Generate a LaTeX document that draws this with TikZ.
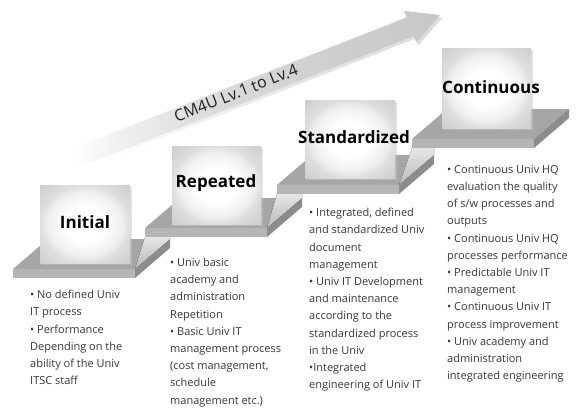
\documentclass[tikz,border=0pt]{standalone}
\usepackage{fontspec}
\setmainfont{Open Sans}
\pgfdeclarehorizontalshading{arrowshade}{100bp}{color(0bp)=(white); color(29bp)=(white); color(35bp)=(gray!12); color(45bp)=(gray!27); color(60bp)=(gray!37); color(75bp)=(gray!44); color(100bp)=(gray!44)}
\pgfdeclarehorizontalshading{arrowshadow}{100bp}{color(0bp)=(white); color(33bp)=(white); color(50bp)=(gray!16); color(75bp)=(gray!28); color(100bp)=(gray!28)}
\pgfdeclareradialshading{boxshade}{\pgfpoint{0bp}{0bp}}{color(0bp)=(white); color(11bp)=(white); color(21bp)=(gray!13); color(25bp)=(gray!26); color(36bp)=(gray!40); color(50bp)=(gray!40)}
\tikzset{
  topface/.style={fill=gray!70},
  frontface/.style={fill=gray!58},
  sideface/.style={fill=black!45},
  riserface/.style={top color=gray!20, bottom color=gray!55},
  levelbox/.style={shading=boxshade},
  boxshadow/.style={fill=gray!45, opacity=0.5},
  levellabel/.style={font=\bfseries\fontsize{17}{20}\selectfont, text=black, inner sep=0pt},
  desc/.style={font=\fontsize{11}{17.2}\selectfont, text=black!78, align=left, anchor=north west, inner sep=0pt},
}
\newcommand\stepplat[2]{%
  \fill[topface] (#1,#2) -- ++(122,0) -- ++(35,-30) -- ++(-122,0) -- cycle;
  \fill[frontface] (#1,#2) rectangle ++(122,9);
  \fill[sideface] (#1+122,#2) -- ++(35,-30) -- ++(0,9) -- ++(-35,30) -- cycle;
}
\newcommand\stepriser[4]{%
  \fill[riserface] (#1+122,#2) -- (#3,#4+9) -- (#1+157,#4+9) -- (#1+157,#2-30) -- cycle;
}
\begin{document}
\begin{tikzpicture}[x=1pt,y=-1pt]
\useasboundingbox (0,0) rectangle (577,407);
\fill[white] (0,0) rectangle (577,407);
% big arrow
\coordinate (tip) at (440,15);
\shade[shading=arrowshadow] (43.5,164.2) -- (408.7,20.9) -- (406.0,13.9) -- (442,18) -- (418.4,45.5) -- (415.7,38.5) -- (50.5,181.8) -- cycle;
\shade[shading=arrowshade] (41.5,160.7) -- (406.7,17.4) -- (404.0,10.9) -- (tip) -- (416.4,42.5) -- (413.7,36.0) -- (48.5,179.3) -- cycle;
\node[rotate=21.4, font=\fontsize{16}{18}\selectfont, text=black!88, inner sep=0pt] (arrowtext) at (236,93) {CM4U Lv.1 to Lv.4};
% steps
\stepplat{13}{269}
\stepriser{13}{269}{145}{228}
\stepplat{145}{228}
\stepriser{145}{228}{277}{185}
\stepplat{277}{185}
\stepriser{277}{185}{412}{139}
\stepplat{412}{139}
% boxes
\fill[boxshadow] (42,187) rectangle (132,265);
\shade[levelbox] (40,185) rectangle (130,263);
\fill[boxshadow] (174,148) rectangle (263,226);
\shade[levelbox] (172,146) rectangle (261,224);
\fill[boxshadow] (307,102) rectangle (397,180);
\shade[levelbox] (305,100) rectangle (395,178);
\fill[boxshadow] (444,50) rectangle (533,130);
\shade[levelbox] (442,48) rectangle (531,128);
\node[levellabel] (initial) at (85,222) {Initial};
\node[levellabel] (repeated) at (216,183) {Repeated};
\node[levellabel] (standardized) at (354,137) {Standardized};
\node[levellabel] (continuous) at (491,87) {Continuous};
% descriptions
\node[desc] (d1) at (30,290) {• No defined Univ\\IT process\\• Performance\\Depending on the\\ability of the Univ\\ITSC staff};
\node[desc] (d2) at (170,258) {• Univ basic\\academy and\\administration\\Repetition\\• Basic Univ IT\\management process\\(cost management,\\schedule\\management etc.)};
\node[desc] (d3) at (309,208) {• Integrated, defined\\and standardized Univ\\document\\management\\• Univ IT Development\\and maintenance\\according to the\\standardized process\\in the Univ\\•Integrated\\engineering of Univ IT};
\node[desc] (d4) at (447,165) {• Continuous Univ HQ\\evaluation the quality\\of s/w processes and\\outputs\\• Continuous Univ HQ\\processes performance\\• Predictable Univ IT\\management\\• Continuous Univ IT\\process improvement\\• Univ academy and\\administration\\integrated engineering};
\end{tikzpicture}
\end{document}
